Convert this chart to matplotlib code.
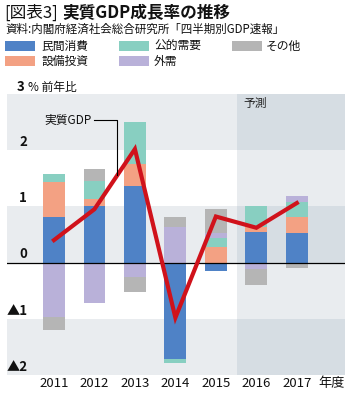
import matplotlib
matplotlib.use("Agg")
import matplotlib.pyplot as plt
from matplotlib.patches import Rectangle
import numpy as np

plt.rcParams['font.family'] = ['Noto Sans CJK JP', 'DejaVu Sans']

years = ['2011', '2012', '2013', '2014', '2015', '2016', '2017']
private_consumption = [0.82, 1.00, 1.36, -1.71, -0.15, 0.54, 0.52]
capex = [0.61, 0.13, 0.39, 0.00, 0.27, 0.09, 0.30]
public_demand = [0.14, 0.32, 0.75, -0.08, 0.16, 0.37, 0.25]
external = [-0.96, -0.71, -0.25, 0.63, 0.09, -0.12, 0.11]
other = [-0.24, 0.21, -0.27, 0.19, 0.44, -0.27, -0.10]
real_gdp = [0.40, 0.95, 2.02, -0.98, 0.82, 0.62, 1.06]

series_names = ['民間消費', '設備投資', '公的需要', '外需', 'その他']
series_values = [private_consumption, capex, public_demand, external, other]
colors = ['#4f82c6', '#f3a183', '#88cfc1', '#b9b1d9', '#b5b5b5']

W, H = 354, 398
fig = plt.figure(figsize=(W / 100, H / 100), dpi=100)

def px(x, y):
    return x / W, 1 - y / H

ax_left, ax_right, ax_top, ax_bot = 7, 345, 94, 375
ax = fig.add_axes([ax_left / W, 1 - ax_bot / H, (ax_right - ax_left) / W, (ax_bot - ax_top) / H])
xmin, xmax = -1.16, 7.19
ax.set_xlim(xmin, xmax)
ax.set_ylim(-2, 3)
ax.axis('off')

# background bands
fc_start = 4.52
band_gray = '#e9ecef'
band_gray_dark = '#d6dde3'
for lo, hi, shaded in [(2, 3, True), (1, 2, False), (0, 1, True), (-1, 0, False), (-2, -1, True)]:
    ax.add_patch(Rectangle((xmin, lo), fc_start - xmin, hi - lo,
                           facecolor=band_gray if shaded else 'white', edgecolor='none', zorder=0))
    ax.add_patch(Rectangle((fc_start, lo), xmax - fc_start, hi - lo,
                           facecolor=band_gray_dark if shaded else band_gray, edgecolor='none', zorder=0))

x = np.arange(len(years))
pos_base = np.zeros(len(years))
neg_base = np.zeros(len(years))
for vals, c in zip(series_values, colors):
    v = np.array(vals)
    pos = np.where(v > 0, v, 0)
    neg = np.where(v < 0, v, 0)
    ax.bar(x, pos, bottom=pos_base, width=0.54, color=c, zorder=2)
    ax.bar(x, neg, bottom=neg_base, width=0.54, color=c, zorder=2)
    pos_base += pos
    neg_base += neg

ax.axhline(0, color='black', lw=0.9, zorder=3)
ax.plot(x, real_gdp, color='#d0121b', lw=3.0, zorder=4, solid_joinstyle='miter')

# y labels
ylabels = {2: '2', 1: '1', 0: '0', -1: '▲1', -2: '▲2'}
for v, s in ylabels.items():
    ax.text(-0.66, v + 0.02, s, ha='right', va='bottom', fontsize=9.5,
            fontweight='bold', color='#111111', zorder=5)

# x labels
for xi, y in zip(x, years):
    ax.text(xi, -2.16, y, ha='center', va='center', fontsize=9.5, color='#111111')
ax.text(6.86, -2.16, '年度', ha='center', va='center', fontsize=9.5, color='#111111')

# forecast label
ax.text(4.69, 2.84, '予測', ha='left', va='center', fontsize=8.5, color='#222222')

# annotation
ax.plot([1.0, 1.556, 1.556], [2.54, 2.54, 1.55], color='black', lw=0.8, zorder=5)
ax.text(0.94, 2.54, '実質GDP', ha='right', va='center', fontsize=8.5, color='#111111', zorder=5)

# unit label
fig.text(*px(17, 87), '3', ha='left', va='center', fontsize=9.5, fontweight='bold', color='#111111')
fig.text(*px(28, 87), '% 前年比', ha='left', va='center', fontsize=8.5, color='#111111')

# title
fig.text(*px(4, 13), '[図表3]', ha='left', va='center', fontsize=12, color='#111111')
fig.text(*px(62, 13), '実質GDP成長率の推移', ha='left', va='center', fontsize=12,
         fontweight='bold', color='#111111')
fig.text(*px(5, 29), '資料:内閣府経済社会総合研究所「四半期別GDP速報」', ha='left', va='center',
         fontsize=8.3, color='#111111')

# legend
legend_layout = [
    (0, 5, 46, 41), (2, 119, 46, 154), (4, 232, 46, 266),
    (1, 5, 61, 41), (3, 119, 61, 154),
]
for idx, lx, ly, tx in legend_layout:
    x0, y0 = px(lx, ly + 4.5)
    fig.add_artist(Rectangle((x0, y0), 30 / W, 9 / H, facecolor=colors[idx],
                             edgecolor='none', transform=fig.transFigure))
    fig.text(*px(tx, ly), series_names[idx], ha='left', va='center', fontsize=8.5, color='#111111')

fig.savefig('out.png', dpi=100)
